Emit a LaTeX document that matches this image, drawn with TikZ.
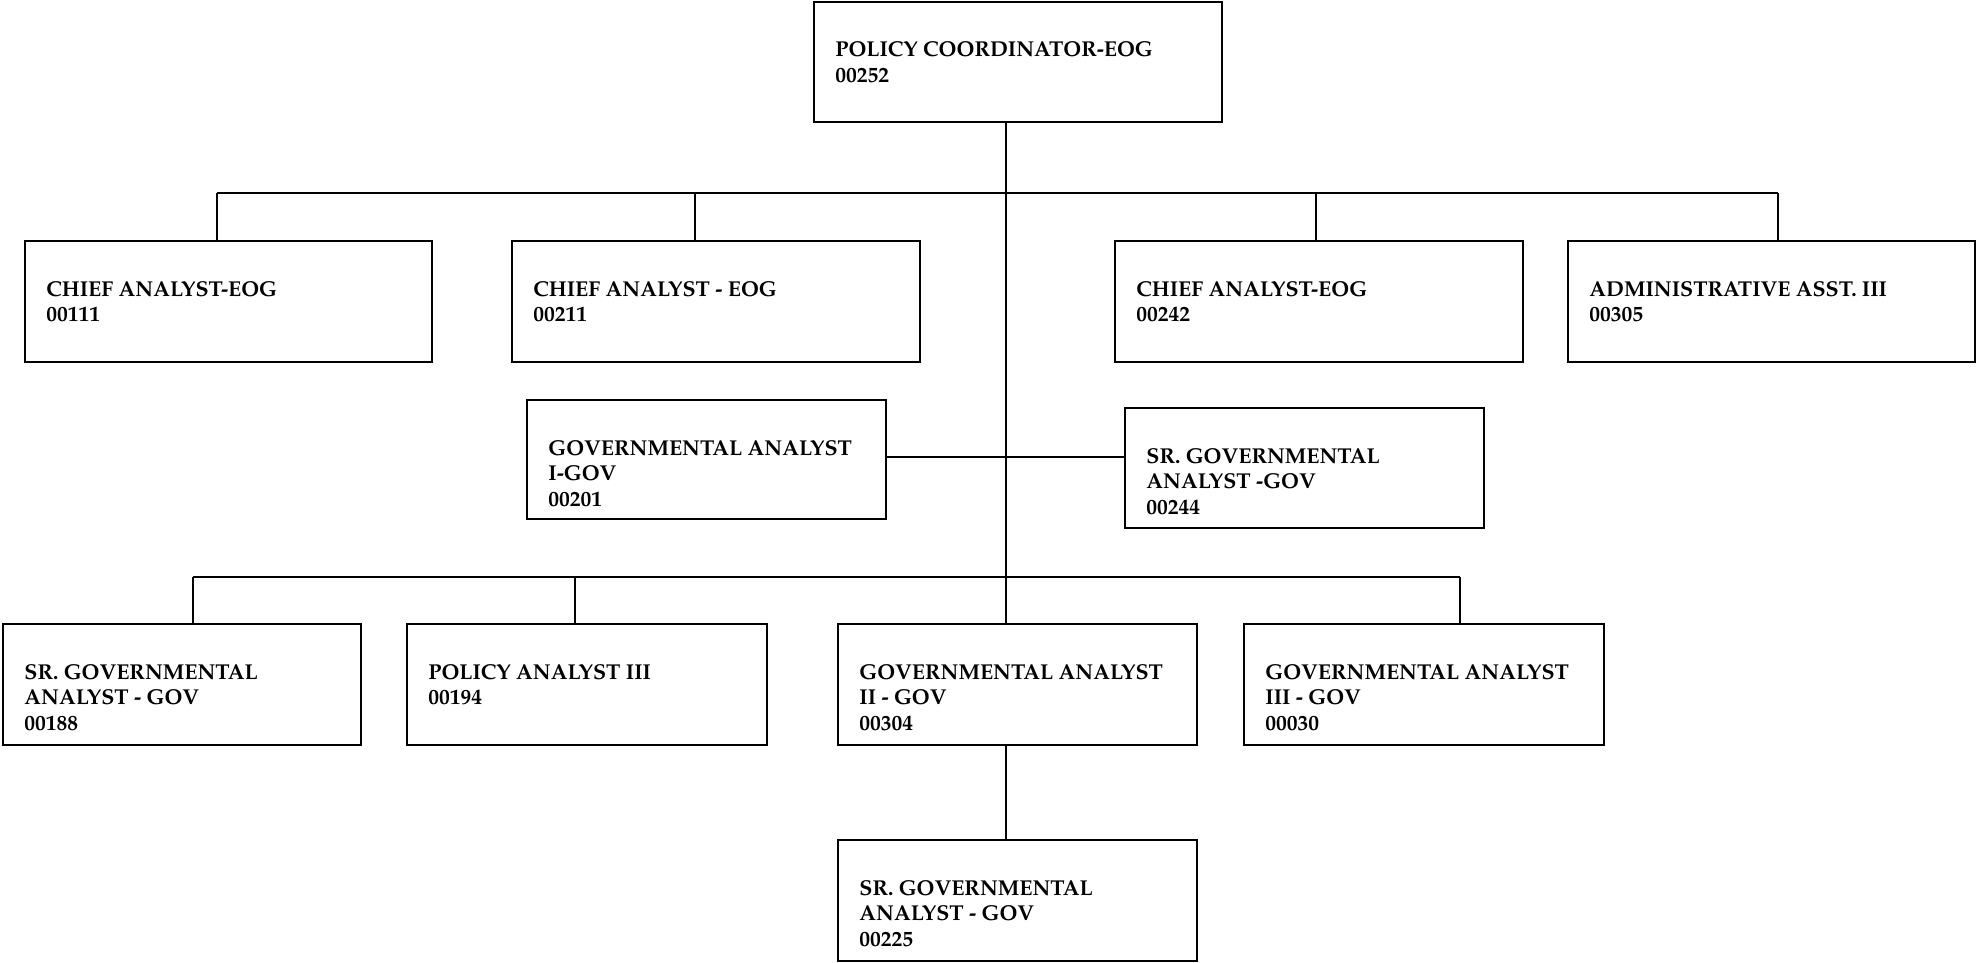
\documentclass[tikz,border=0pt]{standalone}
\usepackage[T1]{fontenc}
\usepackage{mathpazo}
\usetikzlibrary{fit}

% One box: name, top-left x/y, bottom-right x/y, text (lines split by \\)
\newcommand{\orgbox}[6]{%
  \node[orgframe, fit={(#2,#3) (#4,#5)}] (#1) {};
  \node[orglabel] (#1-t) at ([xshift=10.5pt, yshift=-27.5pt]#1.north west)
    {\begin{tabular}[t]{@{}l@{}}#6\end{tabular}};
}

\begin{document}
\begin{tikzpicture}[x=0.5pt, y=-0.5pt,
  orgframe/.style={draw=black, line width=1.2pt, inner sep=0pt, outer sep=0pt},
  orglabel/.style={anchor=base west, inner sep=0pt,
    font=\fontsize{10.75}{12.9}\selectfont\bfseries},
  link/.style={draw=black, line width=0.8pt}]
\useasboundingbox (0,0) rectangle (1977,963);

% head
\orgbox{top}{814}{2}{1222}{122}{POLICY COORDINATOR-EOG\\00252}

% first level
\orgbox{ca1}{25}{241}{432}{362}{CHIEF ANALYST-EOG\\00111}
\orgbox{ca2}{512}{241}{920}{362}{CHIEF ANALYST - EOG\\00211}
\orgbox{ca3}{1115}{241}{1523}{362}{CHIEF ANALYST-EOG\\00242}
\orgbox{adm}{1568}{241}{1975}{362}{ADMINISTRATIVE ASST. III\\00305}

% side boxes on the trunk
\orgbox{ga1}{527}{400}{886}{519}{GOVERNMENTAL ANALYST\\I-GOV\\00201}
\orgbox{sga}{1125}{408}{1484}{528}{SR. GOVERNMENTAL\\ANALYST -GOV\\00244}

% second level
\orgbox{sg1}{3}{624}{361}{745}{SR. GOVERNMENTAL\\ANALYST - GOV\\00188}
\orgbox{pa3}{407}{624}{767}{745}{POLICY ANALYST III\\00194}
\orgbox{ga2}{838}{624}{1197}{745}{GOVERNMENTAL ANALYST\\II - GOV\\00304}
\orgbox{ga3}{1244}{624}{1604}{745}{GOVERNMENTAL ANALYST\\III - GOV\\00030}

% third level
\orgbox{sg2}{838}{840}{1197}{961}{SR. GOVERNMENTAL\\ANALYST - GOV\\00225}

% junction points
\coordinate (j1) at (1006,193);
\coordinate (j2) at (1006,457);
\coordinate (j3) at (1006,577);
\coordinate (r1a) at (217,193);
\coordinate (r1b) at (695,193);
\coordinate (r1c) at (1316,193);
\coordinate (r1d) at (1778,193);
\coordinate (r2a) at (193,577);
\coordinate (r2b) at (575,577);
\coordinate (r2d) at (1460,577);

% trunk
\draw[link] (top.south -| j1) -- (j3);

% first-level bus
\draw[link] (r1a) -- (r1d);
\draw[link] (r1a) -- (r1a |- ca1.north);
\draw[link] (r1b) -- (r1b |- ca2.north);
\draw[link] (r1c) -- (r1c |- ca3.north);
\draw[link] (r1d) -- (r1d |- adm.north);

% side boxes
\draw[link] (ga1.east |- j2) -- (sga.west |- j2);

% second-level bus
\draw[link] (r2a) -- (r2d);
\draw[link] (r2a) -- (r2a |- sg1.north);
\draw[link] (r2b) -- (r2b |- pa3.north);
\draw[link] (j3) -- (j3 |- ga2.north);
\draw[link] (r2d) -- (r2d |- ga3.north);

% third level
\draw[link] (ga2.south -| j3) -- (sg2.north -| j3);
\end{tikzpicture}
\end{document}
